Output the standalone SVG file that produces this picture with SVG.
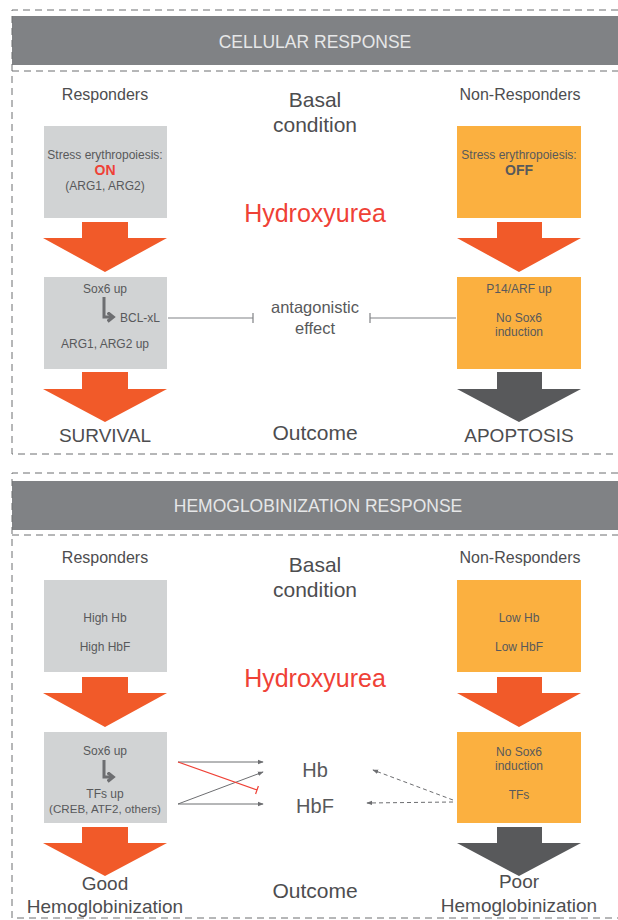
<svg xmlns="http://www.w3.org/2000/svg" width="618" height="920" viewBox="0 0 618 920">
<defs>
<style>
text{font-family:"Liberation Sans",Arial,sans-serif;fill:#58595b;text-anchor:middle}
.dash{fill:none;stroke:#6d6e71;stroke-width:1;stroke-dasharray:7 5}
.hdr{fill:#808285}
.hdrt{fill:#e6e7e8;font-size:17.5px}
.col{font-size:16px;fill:#4d4d4f}
.mid{font-size:21px;fill:#4d4d4f}
.hu{font-size:25px;fill:#ef4136}
.gbox{fill:#d1d3d4}
.obox{fill:#fbb040}
.bt{font-size:12px}
.oarr{fill:#f15a29}
.darr{fill:#58595b}
.out{font-size:19px;fill:#4d4d4f}
.inh{stroke:#808285;stroke-width:1.2;fill:none}
.bent{stroke:#6d6e71;stroke-width:3;fill:none}
.ln{stroke:#6d6e71;stroke-width:1;fill:none;marker-end:url(#ah)}
.dl{stroke:#6d6e71;stroke-width:1;fill:none;stroke-dasharray:4 3;marker-end:url(#ah)}
</style>
<marker id="ah" viewBox="0 0 8 8" refX="7" refY="4" markerWidth="6" markerHeight="6" orient="auto" markerUnits="userSpaceOnUse"><path d="M0,1 L8,4 L0,7 z" fill="#6d6e71"/></marker>
<marker id="bh" viewBox="0 0 10 10" refX="5" refY="5" markerWidth="11" markerHeight="11" orient="auto" markerUnits="userSpaceOnUse"><path d="M1,1 L6,5 L1,9" fill="none" stroke="#6d6e71" stroke-width="3"/></marker>
</defs>

<!-- Section 1 frame -->
<g id="section1-frame">
<rect class="hdr" x="12" y="16" width="606" height="49"/>
<path class="dash" d="M618,10 H12 V454 H618 M12,71 H618"/>
<text class="hdrt" x="315" y="48">CELLULAR RESPONSE</text>
</g>

<g id="s1-labels">
<text class="col" x="105" y="100">Responders</text>
<text class="col" x="520" y="100">Non-Responders</text>
<text class="mid" x="315" y="107">Basal</text>
<text class="mid" x="315" y="132">condition</text>
<text class="hu" x="315" y="222">Hydroxyurea</text>
<text class="mid" x="315" y="440">Outcome</text>
</g>

<g id="s1-resp-basal">
<rect class="gbox" x="44" y="126" width="123" height="92"/>
<text class="bt" x="105" y="159">Stress erythropoiesis:</text>
<text x="105" y="175" style="font-size:14px;font-weight:bold;fill:#ef4136">ON</text>
<text class="bt" x="105" y="190">(ARG1, ARG2)</text>
</g>
<g id="s1-non-basal">
<rect class="obox" x="457" y="126" width="124" height="92"/>
<text class="bt" x="519" y="159">Stress erythropoiesis:</text>
<text x="519" y="175" style="font-size:14px;font-weight:bold">OFF</text>
</g>
<g id="s1-arrows-hu">
<path class="oarr" d="M82,222 H128 V238 H167 L105,272 L43,238 H82 Z"/>
<path class="oarr" d="M497,222 H542 V238 H581 L519,272 L457,238 H497 Z"/>
</g>
<g id="s1-resp-hu">
<rect class="gbox" x="44" y="277" width="123" height="92"/>
<text class="bt" x="105" y="293">Sox6 up</text>
<path class="bent" d="M104,297 V317 H112" marker-end="url(#bh)"/>
<text class="bt" x="140" y="322">BCL-xL</text>
<text class="bt" x="105" y="348">ARG1, ARG2 up</text>
</g>
<g id="s1-non-hu">
<rect class="obox" x="457" y="277" width="124" height="92"/>
<text class="bt" x="519" y="293">P14/ARF up</text>
<text class="bt" x="519" y="322">No Sox6</text>
<text class="bt" x="519" y="336">induction</text>
</g>
<g id="s1-antagonistic">
<text x="315" y="313" style="font-size:16.5px">antagonistic</text>
<text x="315" y="334" style="font-size:16.5px">effect</text>
</g>
<g id="s1-outcomes">
<path class="oarr" d="M82,372 H128 V389 H167 L105,422 L43,389 H82 Z"/>
<path class="darr" d="M497,372 H542 V389 H581 L519,422 L457,389 H497 Z"/>
<text class="out" x="105" y="442">SURVIVAL</text>
<text class="out" x="519" y="442">APOPTOSIS</text>
</g>

<!-- Section 2 frame -->
<g id="section2-frame">
<rect class="hdr" x="12" y="481" width="606" height="49"/>
<path class="dash" d="M618,473 H12 V918 H618 M12,535 H618"/>
<text class="hdrt" x="318" y="512">HEMOGLOBINIZATION RESPONSE</text>
</g>

<g id="s2-labels">
<text class="col" x="105" y="563">Responders</text>
<text class="col" x="520" y="563">Non-Responders</text>
<text class="mid" x="315" y="572">Basal</text>
<text class="mid" x="315" y="597">condition</text>
<text class="hu" x="315" y="687">Hydroxyurea</text>
<text class="mid" x="315" y="898">Outcome</text>
</g>

<g id="s2-resp-basal">
<rect class="gbox" x="44" y="580" width="123" height="92"/>
<text class="bt" x="105" y="622">High Hb</text>
<text class="bt" x="105" y="651">High HbF</text>
</g>
<g id="s2-non-basal">
<rect class="obox" x="457" y="580" width="124" height="92"/>
<text class="bt" x="519" y="622">Low Hb</text>
<text class="bt" x="519" y="651">Low HbF</text>
</g>
<g id="s2-arrows-hu">
<path class="oarr" d="M82,677 H128 V693 H167 L105,727 L43,693 H82 Z"/>
<path class="oarr" d="M497,677 H542 V693 H581 L519,727 L457,693 H497 Z"/>
</g>
<g id="s2-resp-hu">
<rect class="gbox" x="44" y="732" width="123" height="91"/>
<text class="bt" x="105" y="755">Sox6 up</text>
<path class="bent" d="M104,760 V777 H112" marker-end="url(#bh)"/>
<text class="bt" x="105" y="798">TFs up</text>
<text x="105" y="813" style="font-size:11.6px">(CREB, ATF2, others)</text>
</g>
<g id="s2-non-hu">
<rect class="obox" x="457" y="732" width="124" height="91"/>
<text class="bt" x="519" y="756">No Sox6</text>
<text class="bt" x="519" y="770">induction</text>
<text class="bt" x="519" y="799">TFs</text>
</g>
<g id="s2-hb">
<text x="315" y="777" style="font-size:20px">Hb</text>
<text x="315" y="813" style="font-size:20px">HbF</text>
</g>
<g id="s2-outcomes">
<path class="oarr" d="M82,827 H128 V843 H167 L105,876 L43,843 H82 Z"/>
<path class="darr" d="M497,827 H542 V843 H581 L519,876 L457,843 H497 Z"/>
<text class="out" x="105" y="890">Good</text>
<text class="out" x="105" y="913">Hemoglobinization</text>
<text class="out" x="519" y="888">Poor</text>
<text class="out" x="519" y="912">Hemoglobinization</text>
</g>

<g id="connectors">
<path class="inh" d="M168,318 H253 M253,313 V323"/>
<path class="inh" d="M456,318 H370 M370,313 V323"/>
<path class="ln" d="M178,762 L263,762"/>
<path class="ln" d="M178,804 L263,772"/>
<path class="ln" d="M178,804 L263,804"/>
<path d="M178,762 L257,790 M255.6,794 L258.4,786" stroke="#ef4136" stroke-width="1.2" fill="none"/>
<path class="dl" d="M453,800 L373,770"/>
<path class="dl" d="M453,802 L367,803"/>
</g>
</svg>
